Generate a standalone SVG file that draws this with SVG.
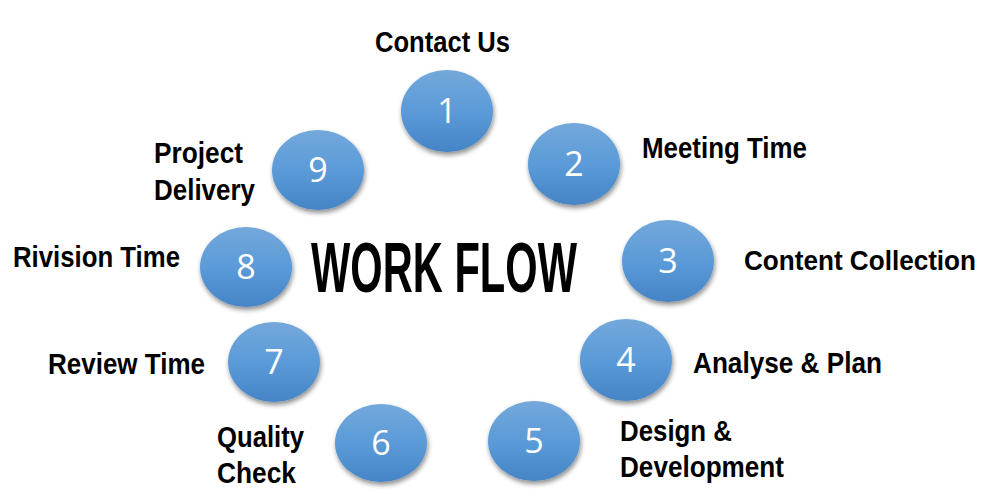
<svg xmlns="http://www.w3.org/2000/svg" width="999" height="501" viewBox="0 0 999 501">
  <defs>
    <linearGradient id="ball" x1="0" y1="0" x2="0" y2="1">
      <stop offset="0" stop-color="#74a8db"/>
      <stop offset="0.5" stop-color="#5b9bd8"/>
      <stop offset="1" stop-color="#4584c6"/>
    </linearGradient>
    <filter id="shadow" x="-20%" y="-20%" width="150%" height="150%">
      <feGaussianBlur in="SourceAlpha" stdDeviation="2.5"/>
      <feOffset dx="1" dy="3" result="b"/>
      <feComponentTransfer><feFuncA type="linear" slope="0.45"/></feComponentTransfer>
      <feMerge><feMergeNode/><feMergeNode in="SourceGraphic"/></feMerge>
    </filter>
  </defs>
  <style>
    .ball { fill: url(#ball); filter: url(#shadow); }
    .num { font-family: "Open Sans", "Noto Sans", sans-serif; font-size: 34px; fill: #ffffff; text-anchor: middle; }
    .lbl { font-family: "Liberation Sans", Arial, sans-serif; font-weight: bold; font-size: 29px; fill: #000000; }
    .title { font-family: "Liberation Sans", Arial, sans-serif; font-weight: bold; font-size: 70px; fill: #000000; }
  </style>
  <rect width="999" height="501" fill="#ffffff"/>
  <g id="connectors"></g>
  <g id="title">
    <text class="title" transform="translate(311,292) scale(0.595,1)" x="0" y="0">WORK FLOW</text>
  </g>
  <g id="node1">
    <ellipse class="ball" cx="447" cy="111" rx="46" ry="41"/>
    <text class="num" x="447" y="123">1</text>
    <text class="lbl" x="375" y="52" textLength="135" lengthAdjust="spacingAndGlyphs">Contact Us</text>
  </g>
  <g id="node2">
    <ellipse class="ball" cx="574" cy="164" rx="46" ry="41"/>
    <text class="num" x="574" y="176">2</text>
    <text class="lbl" x="642" y="158" textLength="165" lengthAdjust="spacingAndGlyphs">Meeting Time</text>
  </g>
  <g id="node3">
    <ellipse class="ball" cx="668" cy="261" rx="46" ry="41"/>
    <text class="num" x="668" y="273">3</text>
    <text class="lbl" x="744" y="270" style="font-size:28px" textLength="232" lengthAdjust="spacingAndGlyphs">Content Collection</text>
  </g>
  <g id="node4">
    <ellipse class="ball" cx="626" cy="360" rx="46" ry="41"/>
    <text class="num" x="626" y="372">4</text>
    <text class="lbl" x="693" y="373" textLength="189" lengthAdjust="spacingAndGlyphs">Analyse &amp; Plan</text>
  </g>
  <g id="node5">
    <ellipse class="ball" cx="534" cy="441" rx="46" ry="40"/>
    <text class="num" x="534" y="453">5</text>
    <text class="lbl" x="620" y="441" textLength="112" lengthAdjust="spacingAndGlyphs">Design &amp;</text>
    <text class="lbl" x="620" y="477" textLength="164" lengthAdjust="spacingAndGlyphs">Development</text>
  </g>
  <g id="node6">
    <ellipse class="ball" cx="381" cy="443" rx="46" ry="39"/>
    <text class="num" x="381" y="455">6</text>
    <text class="lbl" x="217" y="447" textLength="87" lengthAdjust="spacingAndGlyphs">Quality</text>
    <text class="lbl" x="217" y="483" textLength="79" lengthAdjust="spacingAndGlyphs">Check</text>
  </g>
  <g id="node7">
    <ellipse class="ball" cx="274" cy="362" rx="46" ry="40"/>
    <text class="num" x="274" y="374">7</text>
    <text class="lbl" x="48" y="374" textLength="157" lengthAdjust="spacingAndGlyphs">Review Time</text>
  </g>
  <g id="node8">
    <ellipse class="ball" cx="246" cy="267" rx="46" ry="40"/>
    <text class="num" x="246" y="279">8</text>
    <text class="lbl" x="13" y="267" textLength="167" lengthAdjust="spacingAndGlyphs">Rivision Time</text>
  </g>
  <g id="node9">
    <ellipse class="ball" cx="318" cy="170" rx="46" ry="40"/>
    <text class="num" x="318" y="182">9</text>
    <text class="lbl" x="154" y="163" textLength="89" lengthAdjust="spacingAndGlyphs">Project</text>
    <text class="lbl" x="154" y="200" textLength="101" lengthAdjust="spacingAndGlyphs">Delivery</text>
  </g>
</svg>
